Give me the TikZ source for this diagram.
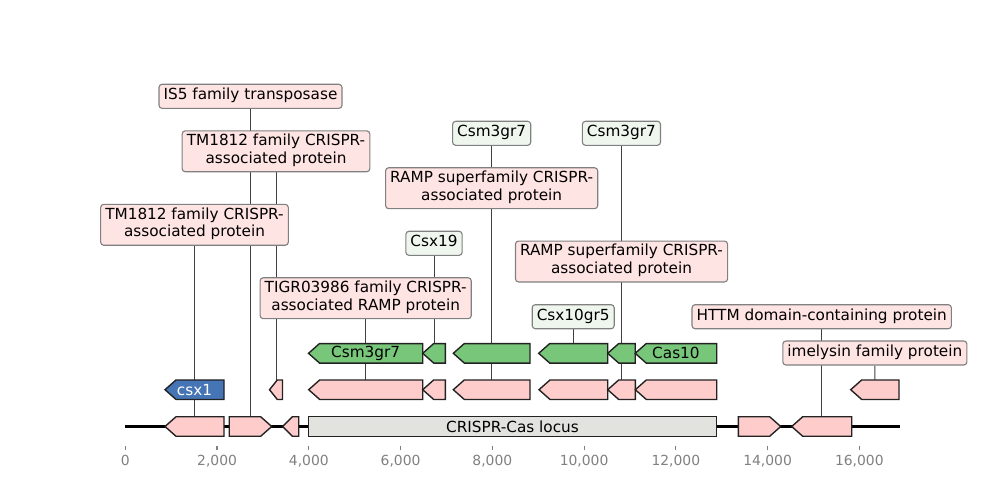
\documentclass[tikz,border=0pt]{standalone}
\usepackage{fontspec}
\setmainfont{DejaVu Sans}
\pgfdeclarelayer{background}
\pgfsetlayers{background,main}

\definecolor{genepink}{HTML}{FFCCCC}
\definecolor{genegreen}{HTML}{78C679}
\definecolor{geneblue}{HTML}{4575B4}
\definecolor{locusgrey}{HTML}{E2E2DE}
\definecolor{labpink}{HTML}{FFE4E4}
\definecolor{labgreen}{HTML}{EEF6EE}
\definecolor{axisgrey}{HTML}{808080}
\definecolor{edgedark}{HTML}{222222}

\newcommand\labfont{\fontsize{11}{12.6}\selectfont}
\newcommand\tickfont{\fontsize{10}{12}\selectfont}

% \featurearrow{name}{x start}{x end}{row y}{L or R}{fill colour}
\newcommand\featurearrow[6]{%
  \pgfmathsetmacro\fhd{min(11,0.6*(#3-#2))}%
  \if#5L
    \draw[genebody,fill=#6] (#2,#4) -- ({#2+\fhd},{#4-9.75}) -- (#3,{#4-9.75})
      -- (#3,{#4+9.75}) -- ({#2+\fhd},{#4+9.75}) -- cycle;
  \else
    \draw[genebody,fill=#6] (#2,{#4-9.75}) -- ({#3-\fhd},{#4-9.75}) -- (#3,#4)
      -- ({#3-\fhd},{#4+9.75}) -- (#2,{#4+9.75}) -- cycle;
  \fi
  \node[anchorbox,minimum width={(#3-#2)*0.72pt}] (#1) at ({(#2+#3)/2},#4) {};%
}

\tikzset{
  genebody/.style={draw=edgedark,line width=1pt,line join=miter},
  anchorbox/.style={inner sep=0pt,minimum height=14.04pt},
  genetext/.style={font=\labfont,inner sep=0pt},
  lab/.style={draw=black!50,line width=0.8pt,rounded corners=2.2pt,font=\labfont,
    align=center,inner xsep=3.3pt,inner ysep=2.35pt,execute at begin node=\strut},
  labp/.style={lab,fill=labpink},
  labg/.style={lab,fill=labgreen},
  conn/.style={draw=black!75,line width=0.7pt},
  backbone/.style={draw=black,line width=1.5pt},
  tick/.style={draw=axisgrey,line width=0.8pt},
  ticklabel/.style={font=\tickfont,text=axisgrey,anchor=base,inner sep=0pt},
}

\begin{document}
\begin{tikzpicture}[x=0.72pt,y=-0.72pt]
\useasboundingbox (0,0) rectangle (1000,500);

% genome backbone
\coordinate (gstart) at (125,426.5);
\coordinate (gend) at (900,426.5);
\draw[backbone] (gstart) -- (gend);

% bottom row: genome features
\featurearrow{B1}{165}{224}{426.5}{L}{genepink}
\featurearrow{B2}{229.3}{271.7}{426.5}{R}{genepink}
\featurearrow{B3}{282.7}{298.7}{426.5}{L}{genepink}
\node[genebody,fill=locusgrey,inner sep=0pt,minimum height=14.04pt,
  minimum width={(716.7-308.3)*0.72pt},font=\labfont] (locus) at (512.5,426.5) {CRISPR-Cas locus};
\featurearrow{B4}{738.3}{780.7}{426.5}{R}{genepink}
\featurearrow{B5}{791.7}{851.7}{426.5}{L}{genepink}

% middle row: annotated proteins
\featurearrow{M0}{165}{224}{389.7}{L}{geneblue}
\node[genetext,text=white] (M0t) at (M0) {csx1};
\featurearrow{M1}{269.5}{282.5}{389.7}{L}{genepink}
\featurearrow{M2}{308.7}{422.7}{389.7}{L}{genepink}
\featurearrow{M3}{422.7}{445.3}{389.7}{L}{genepink}
\featurearrow{M4}{453.3}{530}{389.7}{L}{genepink}
\featurearrow{M5}{539}{607.7}{389.7}{L}{genepink}
\featurearrow{M6}{607.7}{635.3}{389.7}{L}{genepink}
\featurearrow{M7}{635.3}{716.7}{389.7}{L}{genepink}
\featurearrow{M8}{850.7}{899}{389.7}{L}{genepink}

% top row: Cas genes
\featurearrow{G1}{308.5}{422.7}{353.3}{L}{genegreen}
\node[genetext] (G1t) at (G1) {Csm3gr7};
\featurearrow{G2}{422.7}{445.3}{353.3}{L}{genegreen}
\featurearrow{G3}{453.3}{530}{353.3}{L}{genegreen}
\featurearrow{G4}{538.7}{607.7}{353.3}{L}{genegreen}
\featurearrow{G5}{607.7}{635.2}{353.3}{L}{genegreen}
\featurearrow{G6}{635.2}{716.7}{353.3}{L}{genegreen}
\node[genetext] (G6t) at (G6) {Cas10};

% axis
\foreach \k/\t in {0/0,2/{2,000},4/{4,000},6/{6,000},8/{8,000},10/{10,000},12/{12,000},14/{14,000},16/{16,000}}{
  \coordinate (ta\k) at ({125.3+45.875*\k},445.7);
  \coordinate (tb\k) at ({125.3+45.875*\k},450);
  \draw[tick] (ta\k) -- (tb\k);
  \node[ticklabel] (tl\k) at ({125.3+45.875*\k},465.5) {\t};
}

% annotation labels
\node[labp] (L1) at (250.5,96.3) {IS5 family transposase};
\node[labp] (L2) at (276,151.3) {TM1812 family CRISPR-\\associated protein};
\node[labp] (L3) at (194.5,224.8) {TM1812 family CRISPR-\\associated protein};
\node[labg] (L4) at (491.65,133.3) {Csm3gr7};
\node[labp] (L5) at (491.65,188.2) {RAMP superfamily CRISPR-\\associated protein};
\node[labg] (L6) at (621.45,133.3) {Csm3gr7};
\node[labp] (L7) at (621.5,261.5) {RAMP superfamily CRISPR-\\associated protein};
\node[labg] (L8) at (434,243.3) {Csx19};
\node[labp] (L9) at (365.7,298.2) {TIGR03986 family CRISPR-\\associated RAMP protein};
\node[labg] (L10) at (573.2,316.7) {Csx10gr5};
\node[labp] (L11) at (821.7,316.7) {HTTM domain-containing protein};
\node[labp] (L12) at (874.85,353) {imelysin family protein};

% leader lines, kept behind features and labels
\begin{pgfonlayer}{background}
\draw[conn] (L1) -- (B2);
\draw[conn] (L2) -- (M1);
\draw[conn] (L3) -- (B1);
\draw[conn] (L4) -- (G3);
\draw[conn] (L5) -- (M4);
\draw[conn] (L6) -- (G5);
\draw[conn] (L7) -- (M6);
\draw[conn] (L8) -- (G2);
\draw[conn] (L9) -- (M2);
\draw[conn] (L10) -- (G4);
\draw[conn] (L11) -- (B5);
\draw[conn] (L12) -- (M8);
\end{pgfonlayer}
\end{tikzpicture}
\end{document}
